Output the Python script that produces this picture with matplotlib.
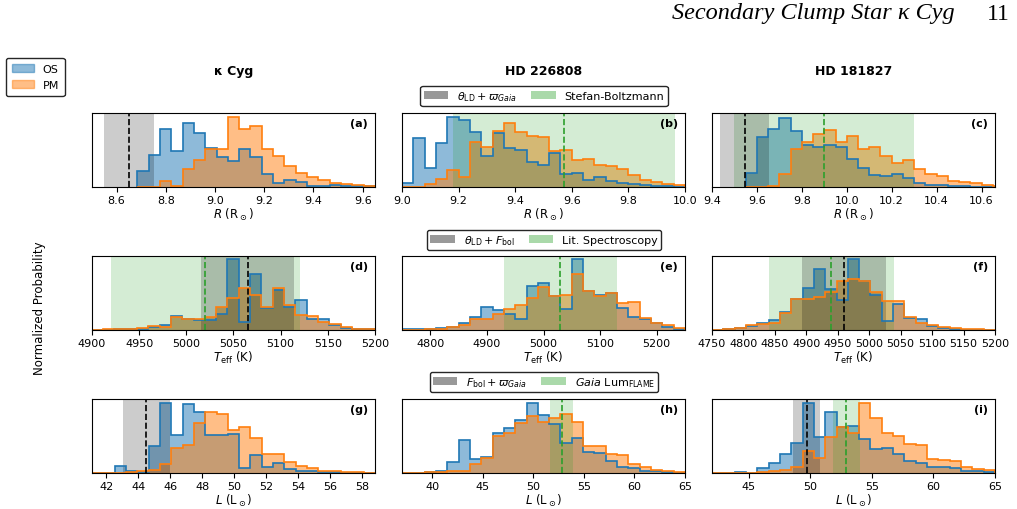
import numpy as np
import matplotlib.pyplot as plt
from matplotlib.patches import Patch
from matplotlib.ticker import MultipleLocator

stars = ['κ Cyg', 'HD 226808', 'HD 181827']
xlabels = [r'$R$ (R$_\odot$)', r'$T_{\rm eff}$ (K)', r'$L$ (L$_\odot$)']
panel_tags = ['(a)', '(b)', '(c)', '(d)', '(e)', '(f)', '(g)', '(h)', '(i)']

# histogram heights (normalised)
os_a = [0.21, 0.43, 0.79, 0.48, 0.86, 0.73, 0.53, 0.40, 0.35, 0.51, 0.40, 0.18, 0.06, 0.10, 0.07,
        0.01, 0.01, 0.03, 0.02, 0.01, 0.01]
pm_a = [0.0, 0.0, 0.08, 0.01, 0.25, 0.37, 0.52, 0.52, 0.94, 0.78, 0.82, 0.52, 0.42, 0.28, 0.19,
        0.13, 0.09, 0.06, 0.04, 0.03, 0.02]
os_b = [0.058, 0.667, 0.253, 0.60, 0.947, 0.911, 0.742, 0.42, 0.733, 0.533, 0.502, 0.333, 0.298,
        0.458, 0.178, 0.191, 0.098, 0.133, 0.076, 0.058, 0.044, 0.031, 0.013, 0.009, 0.004]
pm_b = [0.0, 0.005, 0.044, 0.111, 0.236, 0.133, 0.609, 0.542, 0.756, 0.867, 0.742, 0.689, 0.68,
        0.489, 0.502, 0.369, 0.378, 0.298, 0.289, 0.244, 0.164, 0.098, 0.067, 0.044, 0.031]
os_c = [0.188, 0.673, 0.785, 0.933, 0.753, 0.561, 0.538, 0.574, 0.547, 0.372, 0.256, 0.157, 0.148,
        0.179, 0.121, 0.058, 0.031, 0.022, 0.013, 0.009, 0.004, 0.004, 0.002]
pm_c = [0.0, 0.0, 0.013, 0.179, 0.507, 0.614, 0.717, 0.776, 0.614, 0.695, 0.507, 0.534, 0.417,
        0.327, 0.363, 0.247, 0.179, 0.143, 0.076, 0.067, 0.058, 0.031, 0.02]
os_d = [0.0, 0.005, 0.01, 0.01, 0.02, 0.04, 0.063, 0.19, 0.153, 0.135, 0.135, 0.221, 0.955, 0.108,
        0.752, 0.293, 0.536, 0.315, 0.405, 0.153, 0.144, 0.072, 0.032, 0.018, 0.009]
pm_d = [0.005, 0.009, 0.009, 0.018, 0.023, 0.054, 0.045, 0.18, 0.153, 0.144, 0.18, 0.315, 0.437,
        0.572, 0.468, 0.315, 0.572, 0.333, 0.198, 0.189, 0.108, 0.077, 0.045, 0.018, 0.009]
os_e = [0.009, 0.009, 0.018, 0.023, 0.045, 0.09, 0.18, 0.306, 0.27, 0.212, 0.153, 0.595, 0.64,
        0.459, 0.279, 0.955, 0.523, 0.468, 0.505, 0.302, 0.18, 0.153, 0.09, 0.045, 0.018]
pm_e = [0.005, 0.005, 0.009, 0.018, 0.04, 0.063, 0.144, 0.144, 0.212, 0.279, 0.333, 0.437, 0.586,
        0.459, 0.468, 0.752, 0.527, 0.459, 0.505, 0.369, 0.378, 0.167, 0.09, 0.063, 0.032]
os_f = [0.005, 0.014, 0.032, 0.054, 0.09, 0.131, 0.243, 0.423, 0.572, 0.829, 0.559, 0.401, 0.955,
        0.662, 0.468, 0.122, 0.356, 0.167, 0.144, 0.054, 0.032, 0.018, 0.005, 0.0, 0.0]
pm_f = [0.005, 0.009, 0.027, 0.063, 0.077, 0.099, 0.234, 0.414, 0.414, 0.45, 0.514, 0.662, 0.694,
        0.662, 0.514, 0.392, 0.392, 0.176, 0.099, 0.063, 0.045, 0.032, 0.018, 0.009, 0.005]
os_g = [0.0, 0.0, 0.089, 0.031, 0.009, 0.364, 0.942, 0.511, 0.929, 0.822, 0.52, 0.52, 0.533, 0.062,
        0.244, 0.076, 0.129, 0.049, 0.031, 0.022, 0.013, 0.009, 0.004, 0.002, 0.0]
pm_g = [0.004, 0.004, 0.004, 0.009, 0.031, 0.04, 0.12, 0.342, 0.378, 0.676, 0.818, 0.80, 0.587,
        0.622, 0.467, 0.262, 0.262, 0.151, 0.098, 0.067, 0.022, 0.022, 0.018, 0.009, 0.004]
os_h = [0.0, 0.0, 0.013, 0.022, 0.142, 0.44, 0.187, 0.218, 0.542, 0.609, 0.72, 0.942, 0.778, 0.662,
        0.40, 0.476, 0.289, 0.276, 0.164, 0.084, 0.067, 0.022, 0.022, 0.013, 0.004]
pm_h = [0.004, 0.004, 0.009, 0.013, 0.031, 0.022, 0.12, 0.196, 0.498, 0.542, 0.676, 0.764, 0.689,
        0.742, 0.796, 0.689, 0.364, 0.364, 0.262, 0.244, 0.12, 0.084, 0.04, 0.022, 0.009]
os_i = [0.0, 0.0, 0.018, 0.004, 0.067, 0.138, 0.253, 0.409, 0.942, 0.484, 0.822, 0.618, 0.631,
        0.453, 0.329, 0.342, 0.262, 0.164, 0.138, 0.076, 0.076, 0.067, 0.031, 0.022, 0.018]
pm_i = [0.004, 0.004, 0.004, 0.004, 0.009, 0.022, 0.04, 0.076, 0.298, 0.196, 0.484, 0.618, 0.542,
        0.942, 0.742, 0.542, 0.498, 0.387, 0.378, 0.187, 0.173, 0.156, 0.076, 0.049, 0.04]

os_hist = [os_a, os_b, os_c, os_d, os_e, os_f, os_g, os_h, os_i]
pm_hist = [pm_a, pm_b, pm_c, pm_d, pm_e, pm_f, pm_g, pm_h, pm_i]

# bin range (first edge, last edge) of each panel
bin_range = [(8.684, 9.65), (9.0, 10.0), (9.55, 10.70), (4899.6, 5199.6), (4750, 5250),
             (4750, 5200), (41.1, 58.8), (37, 65), (42, 65)]

# interferometric values (grey) and literature / other values (green): (value, error)
interf = [(8.65, 0.10), None, (9.545, 0.108), (5065, 49), None, (4960, 67),
          (44.5, 1.45), None, (49.7, 1.1)]
lit = [None, (9.571, 0.392), (9.90, 0.40), (5020, 100), (5030, 100), (4940, 100),
       None, (52.8, 1.15), (52.9, 1.1)]

xlims = [(8.5, 9.65), (9.0, 10.0), (9.4, 10.66), (4900, 5200), (4750, 5250), (4750, 5200),
         (41.1, 58.8), (37, 65), (42, 65)]
tick_step = [0.2, 0.2, 0.2, 50, 100, 50, 2, 5, 5]

row_legend = [[r'$\theta_{\rm LD} + \varpi_{Gaia}$', 'Stefan-Boltzmann'],
              [r'$\theta_{\rm LD} + F_{\rm bol}$', 'Lit. Spectroscopy'],
              [r'$F_{\rm bol} + \varpi_{Gaia}$', r'$Gaia$ Lum$_{\rm FLAME}$']]

W, H = 1017, 510
fig = plt.figure(figsize=(W / 100, H / 100), dpi=100)

col_left = [92, 402, 712]
row_bottom = [188, 331, 474]
ax_w, ax_h = 283, 74

for i in range(9):
    r, c = divmod(i, 3)
    ax = fig.add_axes([col_left[c] / W, 1 - row_bottom[r] / H, ax_w / W, ax_h / H])
    lo, hi = bin_range[i]
    edges = np.linspace(lo, hi, len(os_hist[i]) + 1)
    mids = 0.5 * (edges[1:] + edges[:-1])
    for vals, col in [(os_hist[i], 'C0'), (pm_hist[i], 'C1')]:
        ax.hist(mids, bins=edges, weights=vals, histtype='bar', color=col, alpha=0.5, rwidth=1.0)
        ax.hist(mids, bins=edges, weights=vals, histtype='step', color=col, lw=1.2)
    if lit[i] is not None:
        m, e = lit[i]
        ax.axvspan(m - e, m + e, color='C2', alpha=0.2, lw=0)
        ax.axvline(m, color='C2', ls='--', lw=1.2)
    if interf[i] is not None:
        m, e = interf[i]
        ax.axvspan(m - e, m + e, color='k', alpha=0.2, lw=0)
        ax.axvline(m, color='k', ls='--', lw=1.2)
    ax.set_xlim(xlims[i])
    ax.set_ylim(0, 1.0)
    ax.set_yticks([])
    ax.xaxis.set_major_locator(MultipleLocator(tick_step[i]))
    ax.tick_params(axis='x', labelsize=8, length=3.5, pad=2)
    ax.set_xlabel(xlabels[r], fontsize=8.5, labelpad=1)
    ax.text(0.975, 0.86, panel_tags[i], transform=ax.transAxes, ha='right', va='center',
            fontsize=8, fontweight='bold')
    if r == 0:
        ax.set_title(stars[c], fontsize=9, fontweight='bold', pad=28)

# row legends for the shaded regions
for r in range(3):
    handles = [Patch(color='k', alpha=0.4, lw=0), Patch(color='C2', alpha=0.4, lw=0)]
    fig.legend(handles, row_legend[r], loc='center',
               bbox_to_anchor=(544 / W, 1 - [97, 241, 383][r] / H), ncol=2, fontsize=8,
               frameon=True, fancybox=True, edgecolor='0.15', framealpha=1,
               handlelength=2.2, handleheight=0.8, columnspacing=1.3, borderpad=0.3,
               handletextpad=0.8)

os_pm = [Patch(facecolor='C0', alpha=0.5, edgecolor='C0'),
         Patch(facecolor='C1', alpha=0.5, edgecolor='C1')]
fig.legend(os_pm, ['OS', 'PM'], loc='upper left', bbox_to_anchor=(6 / W, 1 - 59 / H),
           fontsize=8, frameon=True, edgecolor='0.15', framealpha=1, handlelength=2.0,
           borderpad=0.5, labelspacing=0.6, borderaxespad=0)

fig.text(40 / W, 1 - 308 / H, 'Normalized Probability', rotation=90, ha='center', va='center',
         fontsize=8.5)

fig.text(955 / W, 1 - 14 / H, 'Secondary Clump Star κ Cyg', ha='right', va='center',
         family='Liberation Serif', style='italic', fontsize=17.5)
fig.text(1010 / W, 1 - 14 / H, '11', ha='right', va='center', family='Liberation Serif',
         fontsize=17)

fig.savefig('out.png', dpi=100)
